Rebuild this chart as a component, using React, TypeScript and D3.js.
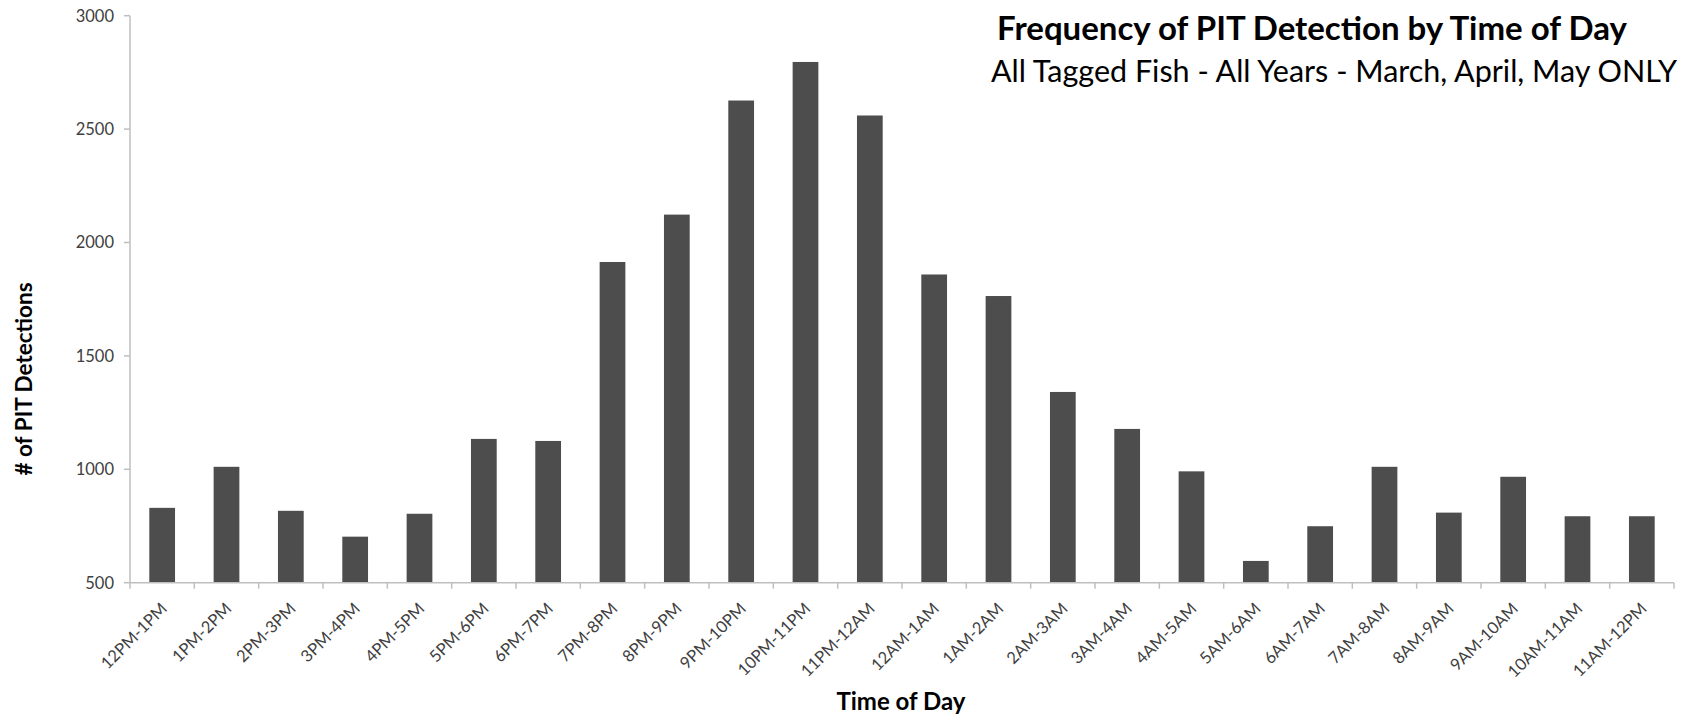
import React from "react";
import * as d3 from "d3";

const categories = [
  "12PM-1PM", "1PM-2PM", "2PM-3PM", "3PM-4PM", "4PM-5PM", "5PM-6PM",
  "6PM-7PM", "7PM-8PM", "8PM-9PM", "9PM-10PM", "10PM-11PM", "11PM-12AM",
  "12AM-1AM", "1AM-2AM", "2AM-3AM", "3AM-4AM", "4AM-5AM", "5AM-6AM",
  "6AM-7AM", "7AM-8AM", "8AM-9AM", "9AM-10AM", "10AM-11AM", "11AM-12PM",
];

const detections = [
  830, 1011, 817, 703, 804, 1134,
  1125, 1914, 2123, 2626, 2796, 2560,
  1859, 1764, 1341, 1178, 991, 596,
  749, 1011, 809, 967, 793, 793,
];

const yTicks = [500, 1000, 1500, 2000, 2500, 3000];

const titleText = "Frequency of PIT Detection by Time of Day";
const subtitleText = "All Tagged Fish - All Years - March, April, May ONLY";
const xTitle = "Time of Day";
const yTitle = "# of PIT Detections";

const W = 1698;
const H = 719;
const FONT = "Lato, 'Open Sans', sans-serif";

export default function App() {
  const left = 130;
  const right = 1674;
  const top = 15.7;
  const bottom = 582.7;

  const x = d3.scaleBand<string>().domain(categories).range([left, right]).paddingInner(0.6).paddingOuter(0.3);
  const y = d3.scaleLinear().domain([500, 3000]).range([bottom, top]);
  const step = x.step();
  const axisColor = "#bfbfbf";

  return (
    <svg width={W} height={H} style={{ position: "absolute", left: 0, top: 0, display: "block", background: "#fff" }}>
      {/* bars */}
      {detections.map((v, i) => (
        <rect
          key={categories[i]}
          x={x(categories[i])}
          y={y(v)}
          width={x.bandwidth()}
          height={y(500) - y(v)}
          fill="#4d4d4d"
        />
      ))}

      {/* y axis */}
      <line x1={left} x2={left} y1={top} y2={bottom} stroke={axisColor} strokeWidth={1.5} />
      {yTicks.map((t) => (
        <g key={t}>
          <line x1={left - 6} x2={left} y1={y(t)} y2={y(t)} stroke={axisColor} strokeWidth={1.5} />
          <text x={left - 16} y={y(t)} dy="0.36em" textAnchor="end" fontFamily={FONT} fontSize={16.5} fill="#404040">
            {t}
          </text>
        </g>
      ))}

      {/* x axis */}
      <line x1={left} x2={right} y1={bottom} y2={bottom} stroke={axisColor} strokeWidth={1.5} />
      {d3.range(categories.length + 1).map((i) => (
        <line key={i} x1={left + i * step} x2={left + i * step} y1={bottom} y2={bottom + 6} stroke={axisColor} strokeWidth={1.5} />
      ))}
      {categories.map((c) => {
        const cx = (x(c) as number) + x.bandwidth() / 2;
        return (
          <text
            key={c}
            transform={`translate(${cx + 6},${bottom + 27}) rotate(-45)`}
            textAnchor="end"
            fontFamily={FONT}
            fontSize={16.5}
            fill="#404040"
          >
            {c}
          </text>
        );
      })}

      {/* axis titles */}
      <text x={901} y={710} textAnchor="middle" fontFamily={FONT} fontWeight="bold" fontSize={24} fill="#000">
        {xTitle}
      </text>
      <text transform="translate(32,379) rotate(-90)" textAnchor="middle" fontFamily={FONT} fontWeight="bold" fontSize={22.5} fill="#000">
        {yTitle}
      </text>

      {/* chart title */}
      <text x={1312} y={40} textAnchor="middle" fontFamily={FONT} fontWeight="bold" fontSize={33} fill="#000">
        {titleText}
      </text>
      <text x={1334} y={82} textAnchor="middle" fontFamily={FONT} fontSize={30.5} fill="#000">
        {subtitleText}
      </text>
    </svg>
  );
}
